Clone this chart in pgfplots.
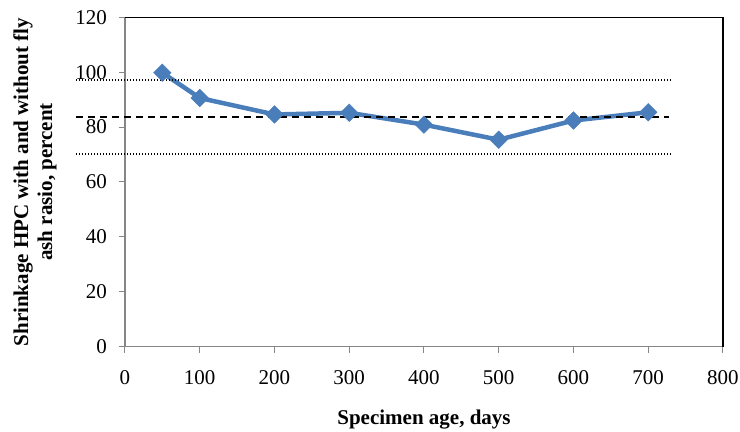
\documentclass[border=0pt]{standalone}
\usepackage{pgfplots}
\pgfplotsset{compat=1.18}
\usepackage{fontspec}
\setmainfont{Liberation Serif}

\definecolor{serblue}{HTML}{4A7EBB}
\definecolor{axgray}{HTML}{868686}

\begin{document}
\begin{tikzpicture}
\begin{axis}[
    at={(0,0)}, anchor=south west,
    scale only axis,
    width=598bp, height=329.4bp,
    xmin=0, xmax=800, ymin=0, ymax=120,
    xtick={0,100,...,800},
    ytick={0,20,...,120},
    axis x line*=bottom,
    axis y line*=left,
    axis line style={axgray, line width=1.2bp, -},
    tick style={axgray, line width=1bp},
    tick align=outside,
    major tick length=6bp,
    clip=false,
    font=\fontsize{21bp}{24bp}\selectfont,
    /pgf/number format/assume math mode=true,
    xticklabel style={anchor=base, yshift=-32bp},
    yticklabel style={anchor=east, inner sep=0pt, xshift=-12bp},
    xlabel={\textbf{Specimen age, days}},
    ylabel={\textbf{Shrinkage HPC with and without fly}\\\textbf{ash rasio, percent}},
    every axis x label/.style={at={(axis description cs:0.5,0)}, anchor=base, yshift=-78bp},
    every axis y label/.style={at={(axis description cs:-0.1505,0.5)}, rotate=90, anchor=center, align=center},
]
\draw[black, line width=1.2bp] (rel axis cs:0,1) -- (rel axis cs:1,1) -- (rel axis cs:1,0);

\addplot[serblue, line width=4.5bp, mark=square*, mark size=6.2bp,
    mark options={rotate=45, solid, fill=serblue, line width=0.5bp}]
    coordinates {(50,99.8)(100,90.6)(200,84.6)(300,85.2)(400,80.9)(500,75.4)(600,82.4)(700,85.4)};

\addplot[black, line width=1.4bp, dash pattern=on 1.3bp off 1.7bp]
    coordinates {(-65.5,97.2)(733,97.2)};
\addplot[black, line width=1.8bp, dash pattern=on 7bp off 5bp]
    coordinates {(-65.5,83.6)(728,83.6)};
\addplot[black, line width=1.4bp, dash pattern=on 1.3bp off 1.7bp]
    coordinates {(-65.5,70.2)(733,70.2)};
\end{axis}
\pgfresetboundingbox
\path[use as bounding box] (-125bp,-85.3bp) rectangle (615bp,346.7bp);
\end{tikzpicture}
\end{document}
